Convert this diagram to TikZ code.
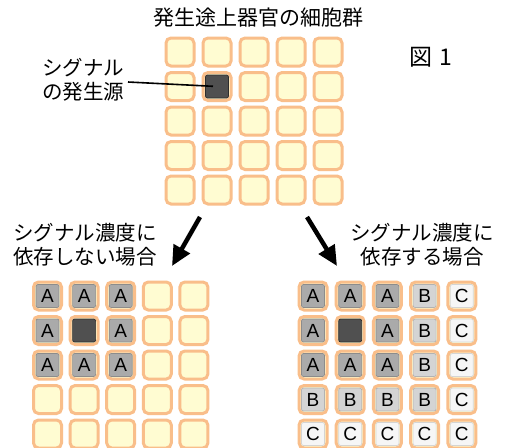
\documentclass[tikz,border=0pt]{standalone}
\usepackage{fontspec}
\setmainfont{Liberation Sans}
\newfontfamily\cjk{Noto Sans CJK JP}
\usetikzlibrary{arrows.meta}
\definecolor{corange}{RGB}{249,190,138}
\definecolor{cyellow}{RGB}{255,252,210}
\definecolor{cdark}{RGB}{80,80,80}
\definecolor{cdarkline}{RGB}{45,45,45}
\definecolor{cA}{RGB}{170,170,170}
\definecolor{cAline}{RGB}{140,140,140}
\definecolor{cB}{RGB}{212,212,212}
\definecolor{cBline}{RGB}{178,178,178}
\definecolor{cC}{RGB}{246,246,246}
\definecolor{cCline}{RGB}{212,212,212}
\tikzset{
  cell/.style={draw=corange, fill=cyellow, line width=3pt, rounded corners=5pt,
    minimum width=28pt, minimum height=28pt, inner sep=0pt},
  inner/.style={line width=0.7pt, rounded corners=2pt, minimum width=23pt,
    minimum height=23pt, inner sep=0pt, font=\fontsize{19}{19}\selectfont},
  darkin/.style={inner, fill=cdark, draw=cdarkline},
  cellA/.style={inner, fill=cA, draw=cAline},
  cellB/.style={inner, fill=cB, draw=cBline},
  cellC/.style={inner, fill=cC, draw=cCline},
  jtext/.style={font=\cjk\fontsize{20.5}{24}\selectfont, align=center, inner sep=0pt},
  bigarrow/.style={line width=4.5pt, -{Triangle[width=18pt,length=20pt]}}
}
\begin{document}
\begin{tikzpicture}[x=1pt,y=-1pt]
\useasboundingbox[fill=white] (0,0) rectangle (505,447);
% top grid
\foreach \i in {0,...,4}
  \foreach \j in {0,...,4}
    \node[cell] (t\i\j) at ({180+37*\i},{52+34.5*\j}) {};
\node[darkin] (tsrc) at (t11) {};
% bottom-left grid
\foreach \i in {0,...,4}
  \foreach \j in {0,...,4}
    \node[cell] (l\i\j) at ({47.5+36.6*\i},{296+34.5*\j}) {};
\node[darkin] (lsrc) at (l11) {};
\foreach \i/\j in {0/0,1/0,2/0,0/1,2/1,0/2,1/2,2/2}
  \node[cellA] (la\i\j) at (l\i\j) {A};
% bottom-right grid
\foreach \i in {0,...,4}
  \foreach \j in {0,...,4}
    \node[cell] (r\i\j) at ({313+37.2*\i},{296+34.5*\j}) {};
\node[darkin] (rsrc) at (r11) {};
\foreach \i/\j in {0/0,1/0,2/0,0/1,2/1,0/2,1/2,2/2}
  \node[cellA] (ra\i\j) at (r\i\j) {A};
\foreach \i/\j in {3/0,3/1,3/2,3/3,0/3,1/3,2/3}
  \node[cellB] (rb\i\j) at (r\i\j) {B};
\foreach \i/\j in {4/0,4/1,4/2,4/3,4/4,0/4,1/4,2/4,3/4}
  \node[cellC] (rc\i\j) at (r\i\j) {C};
% texts
\node[jtext, font=\cjk\fontsize{21}{24}\selectfont] (title) at (258,18) {発生途上器官の細胞群};
\node[jtext, font=\cjk\fontsize{23}{24}\selectfont] (fig) at (431,57) {図\hspace{7pt}1};
\node[jtext] (src) at (83,80) {シグナル\\の発生源};
\node[jtext] (lab1) at (85,245) {シグナル濃度に\\依存しない場合};
\node[jtext] (lab2) at (422,245) {シグナル濃度に\\依存する場合};
% pointer line
\coordinate (srcend) at (128,82);
\draw[line width=1.6pt, shorten >=4pt] (srcend) -- (tsrc.center);
% arrows
\coordinate (a1s) at (200,217);
\coordinate (a1e) at (172,266);
\coordinate (a2s) at (307,217);
\coordinate (a2e) at (337,266);
\draw[bigarrow] (a1s) -- (a1e);
\draw[bigarrow] (a2s) -- (a2e);
\end{tikzpicture}
\end{document}
